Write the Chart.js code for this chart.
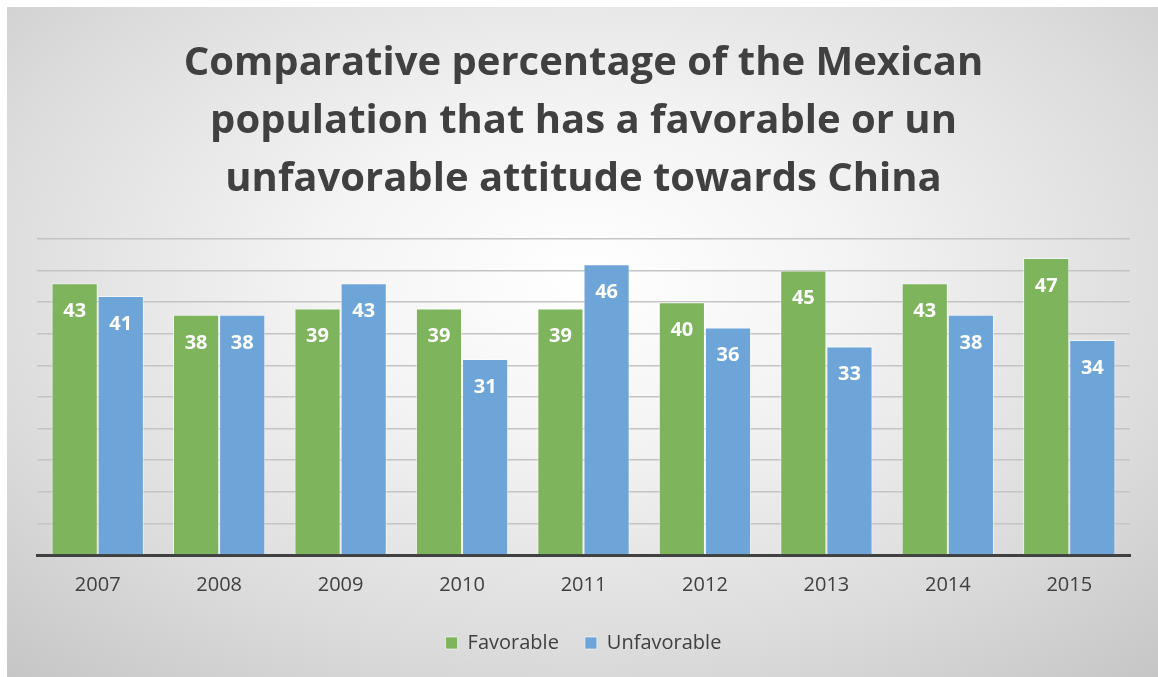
<!DOCTYPE html>
<html>
<head>
<meta charset="utf-8">
<script src="https://cdn.jsdelivr.net/npm/chart.js@4/dist/chart.umd.min.js"></script>
<style>
  html, body { margin: 0; padding: 0; background: #ffffff; }
  #caixa {
    position: absolute; left: 7px; top: 7px; width: 1151px; height: 670px;
    background: radial-gradient(ellipse 75% 80% at 50% 40%, #ffffff 0%, #f4f4f4 30%, #dcdcdc 70%, #c6c6c6 100%);
  }
</style>
</head>
<body>
<div id="caixa"><canvas id="grafico" width="1151" height="670"></canvas></div>
<script>
const anos = ['2007', '2008', '2009', '2010', '2011', '2012', '2013', '2014', '2015'];
const favoravel = [43, 38, 39, 39, 39, 40, 45, 43, 47];
const desfavoravel = [41, 38, 43, 31, 46, 36, 33, 38, 34];
const tituloLinhas = [
  'Comparative percentage of the Mexican',
  'population that has a favorable or un',
  'unfavorable attitude towards China'
];

const corTexto = '#404040';
const fonte = "'Open Sans', 'Liberation Sans', sans-serif";

// escreve o valor dentro da barra, perto do topo
const rotulosBarras = {
  id: 'rotulosBarras',
  afterDatasetsDraw(chart) {
    const ctx = chart.ctx;
    ctx.save();
    ctx.fillStyle = '#ffffff';
    ctx.font = 'bold 20px ' + fonte;
    ctx.textAlign = 'center';
    ctx.textBaseline = 'middle';
    chart.data.datasets.forEach((ds, i) => {
      chart.getDatasetMeta(i).data.forEach((bar, j) => {
        ctx.fillText(ds.data[j], bar.x, bar.y + 28);
      });
    });
    ctx.restore();
  }
};

new Chart(document.getElementById('grafico'), {
  type: 'bar',
  data: {
    labels: anos,
    datasets: [
      {
        label: 'Favorable',
        data: favoravel,
        backgroundColor: '#7db45c',
        borderColor: 'rgba(255,255,255,0.6)',
        borderWidth: 1
      },
      {
        label: 'Unfavorable',
        data: desfavoravel,
        backgroundColor: '#6ea5d8',
        borderColor: 'rgba(255,255,255,0.6)',
        borderWidth: 1
      }
    ]
  },
  options: {
    responsive: false,
    animation: false,
    categoryPercentage: 0.76,
    barPercentage: 1,
    layout: { padding: { left: 30, right: 28, top: 28, bottom: 14 } },
    plugins: {
      title: {
        display: true,
        text: tituloLinhas,
        color: corTexto,
        font: { family: fonte, size: 40, weight: 'bold', lineHeight: 1.45 },
        padding: { top: 0, bottom: 30 }
      },
      legend: {
        position: 'bottom',
        labels: {
          color: corTexto,
          font: { family: fonte, size: 20 },
          boxWidth: 12,
          boxHeight: 12,
          padding: 26
        }
      },
      tooltip: { enabled: false }
    },
    scales: {
      x: {
        grid: { display: false },
        border: { display: true, color: '#404040', width: 3 },
        ticks: { color: corTexto, font: { family: fonte, size: 20 }, padding: 10 }
      },
      y: {
        min: 0,
        max: 50,
        ticks: { display: false, stepSize: 5 },
        border: { display: false },
        grid: {
          color: (c) => c.tick.value === 0 ? 'rgba(0,0,0,0)' : '#c4c4c4',
          lineWidth: 1.5,
          drawTicks: false
        }
      }
    }
  },
  plugins: [rotulosBarras]
});
</script>
</body>
</html>
